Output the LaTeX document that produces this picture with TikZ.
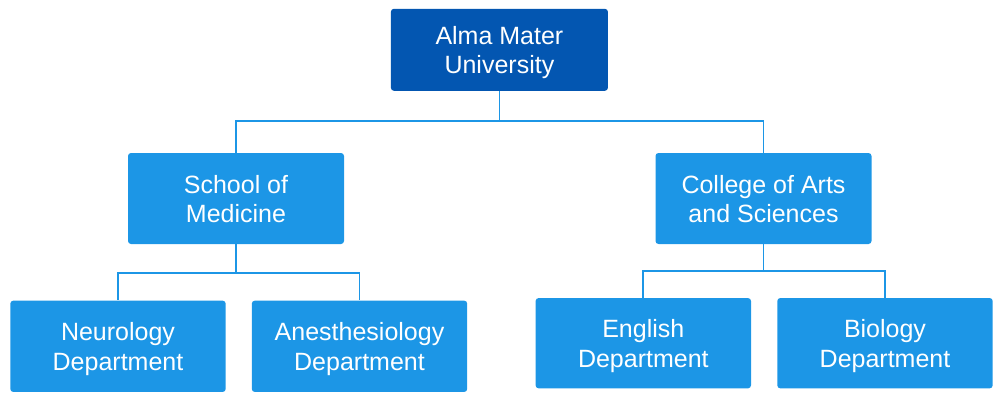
\documentclass[tikz,border=0pt]{standalone}
\usepackage{fontspec}
\setmainfont{Liberation Sans}
\definecolor{topblue}{HTML}{0356B1}
\definecolor{midblue}{HTML}{1C96E6}
\begin{document}
\begin{tikzpicture}[x=1pt,y=-1pt,
  box/.style={draw=none, fill=midblue, rounded corners=3pt, text=white, align=center,
    font=\fontsize{25}{29.5}\selectfont, inner sep=0pt,
    text height=53.5pt, text depth=5.5pt},
  link/.style={draw=midblue, line width=1.8pt}]
\useasboundingbox (0,0) rectangle (1000,404);
\node[box, fill=topblue, minimum width=217pt, minimum height=82pt] (top) at (499.4,49.8) {Alma Mater\\University};
\node[box, minimum width=216pt, minimum height=91pt] (school) at (236,198.5) {School of\\Medicine};
\node[box, minimum width=216pt, minimum height=91pt] (college) at (763.5,198.5) {College of Arts\\and Sciences};
\node[box, minimum width=215.4pt, minimum height=91.3pt] (neuro) at (118,346.3) {Neurology\\Department};
\node[box, minimum width=215.4pt, minimum height=91.3pt] (anes) at (359.5,346.3) {Anesthesiology\\Department};
\node[box, minimum width=215.4pt, minimum height=90.3pt] (eng) at (643.3,343.2) {English\\Department};
\node[box, minimum width=215.4pt, minimum height=90.3pt] (bio) at (885,343.2) {Biology\\Department};
\coordinate (bus0) at (0,121);
\coordinate (bus1) at (0,272.7);
\coordinate (bus2) at (0,270.7);
\draw[link] (top.south) -- (top.south |- bus0) -| (school.north);
\draw[link] (top.south |- bus0) -| (college.north);
\draw[link] (school.south) -- (school.south |- bus1) -| (neuro.north);
\draw[link] (school.south |- bus1) -| (anes.north);
\draw[link] (college.south) -- (college.south |- bus2) -| (eng.north);
\draw[link] (college.south |- bus2) -| (bio.north);
\end{tikzpicture}
\end{document}
